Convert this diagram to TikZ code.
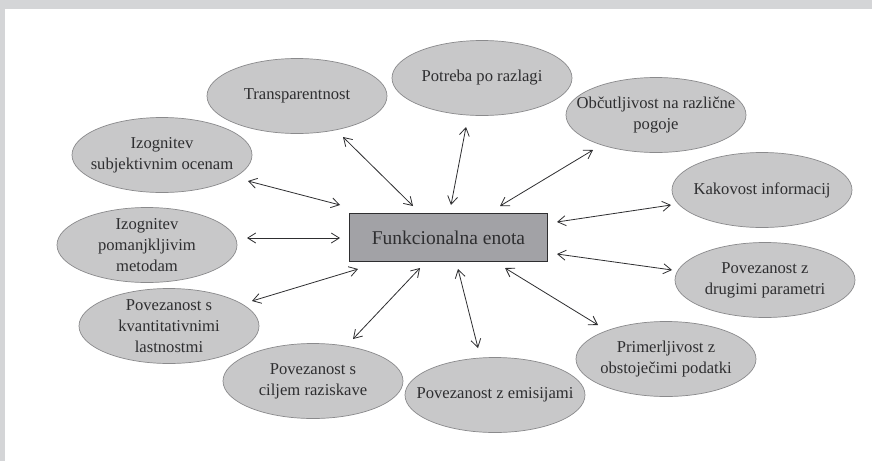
\documentclass[tikz,border=0pt]{standalone}
\usepackage{fontspec}
\setmainfont{Liberation Serif}
\usetikzlibrary{shapes.geometric,arrows.meta}
\definecolor{framegray}{HTML}{D4D5D7}
\definecolor{ellfill}{HTML}{C8C8C9}
\definecolor{ellline}{HTML}{8A8A8C}
\definecolor{boxfill}{HTML}{A2A2A6}
\definecolor{inkgray}{HTML}{2E2E30}
\begin{document}
\begin{tikzpicture}[x=1pt,y=-1pt,
  topic/.style={ellipse, draw=ellline, line width=0.7pt, fill=ellfill,
    minimum width=180pt, minimum height=75pt,
    inner xsep=-30pt, inner ysep=-14pt, align=center,
    text=inkgray, font=\fontsize{16.6}{21}\selectfont},
  core/.style={rectangle, draw=inkgray, line width=1.8pt, fill=boxfill,
    minimum width=198pt, minimum height=48pt, inner sep=0pt,
    text=inkgray, font=\fontsize{19.5}{23}\selectfont},
  link/.style={draw=inkgray, line width=0.8pt,
    arrows={Straight Barb[length=8pt,width=10pt]-Straight Barb[length=8pt,width=10pt]}}]
% page frame
\fill[framegray] (0,0) rectangle (872,461);
\fill[white] (5,9) rectangle (872,461);
\useasboundingbox (0,0) rectangle (872,461);

% central unit
\node[core] (box) at (448.5,237.5) {Funkcionalna enota};

% surrounding properties
\node[topic] (tra) at (297,96) {Transparentnost};
\node[topic] (pot) at (482,78) {Potreba po razlagi};
\node[topic] (obc) at (656,115) {Občutljivost na različne\\pogoje};
\node[topic] (kak) at (762,190) {Kakovost informacij};
\node[topic] (dru) at (765,280) {Povezanost z\\drugimi parametri};
\node[topic] (pri) at (666,359) {Primerljivost z\\obstoječimi podatki};
\node[topic] (emi) at (495,395) {Povezanost z emisijami};
\node[topic] (cil) at (313,381) {Povezanost s\\ciljem raziskave};
\node[topic] (kva) at (169,326) {Povezanost s\\kvantitativnimi\\lastnostmi};
\node[topic] (met) at (147,245) {Izognitev\\pomanjkljivim\\metodam};
\node[topic] (sub) at (162,155) {Izognitev\\subjektivnim ocenam};

% two-way links
\draw[link] ([shift={(-35.5,-31.5)}]box.center) -- ([shift={(46,41)}]tra.center);
\draw[link] ([shift={(2.5,-32.5)}]box.center) -- ([shift={(-16,49)}]pot.center);
\draw[link] ([shift={(51.5,-31.5)}]box.center) -- ([shift={(-63,35)}]obc.center);
\draw[link] ([shift={(108.5,-15.5)}]box.center) -- ([shift={(-91,15)}]kak.center);
\draw[link] ([shift={(108.5,16.5)}]box.center) -- ([shift={(-93,-10)}]dru.center);
\draw[link] ([shift={(56.5,30.5)}]box.center) -- ([shift={(-68,-34)}]pri.center);
\draw[link] ([shift={(9.5,31.5)}]box.center) -- ([shift={(-17,-47)}]emi.center);
\draw[link] ([shift={(-28.5,30.5)}]box.center) -- ([shift={(40,-42)}]cil.center);
\draw[link] ([shift={(-90.5,31.5)}]box.center) -- ([shift={(83,-25)}]kva.center);
\draw[link] ([shift={(-108.5,0.5)}]box.center) -- ([shift={(100,-7)}]met.center);
\draw[link] ([shift={(-108.5,-32.5)}]box.center) -- ([shift={(86,26)}]sub.center);
\end{tikzpicture}
\end{document}
